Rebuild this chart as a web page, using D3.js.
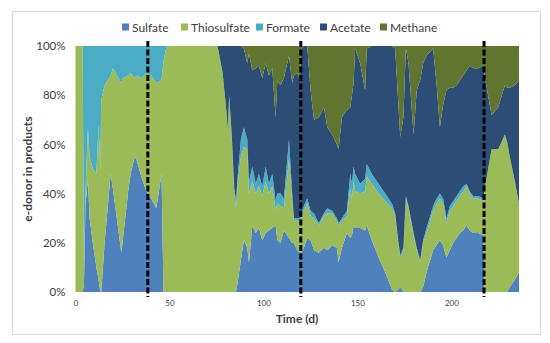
<!DOCTYPE html>
<html>
<head>
<meta charset="utf-8">
<script src="https://cdn.jsdelivr.net/npm/d3@7"></script>
<style>
  body { margin: 0; background: #fff; }
  text { font-family: Lato, "Open Sans", sans-serif; fill: #404040; }
</style>
</head>
<body>
<script>
// sampling days (d) and % of e-donor in each product
var days = [0, 3.8, 4.5, 5.3, 6.6, 7.5, 9.2, 11.1, 12.3, 13.2,
  13.7, 15.5, 18.7, 19.9, 22, 24.4, 25.3, 27.9, 29.3, 31.5,
  32.4, 35, 37.7, 40.3, 43, 45.8, 46.8, 48.5, 75.6, 78.3,
  80.5, 81, 81.8, 83.2, 84.5, 85.4, 86.3, 88, 89.6, 91.4,
  92.3, 94.1, 95.9, 97.6, 99.4, 101.2, 102.9, 104.7, 106.5, 107.4,
  109.1, 110.9, 113.6, 115.3, 116.2, 118, 119.4, 120.1, 121.5, 123.3,
  125.1, 126.9, 129.5, 132.2, 134, 136.6, 139.1, 140, 141.8, 144.4,
  146.2, 147.1, 148, 148.8, 151.5, 154.1, 155, 157.7, 161.3, 164.8,
  168.4, 170.1, 171.9, 172.8, 174.5, 175.8, 177.2, 179.9, 181.6, 183.4,
  185, 186.8, 190.3, 192.1, 193.9, 195.6, 197.4, 199.2, 201, 202.8,
  204.5, 206.3, 208.1, 209.8, 211.6, 214.3, 217.1, 217.7, 221.4, 224.9,
  228.5, 229.7, 231.1, 233.8, 236];

var sulfate = [0, 0, 3, 35, 46, 30, 20, 10, 5, 0,
  0, 20, 48, 42, 30, 16, 22, 40, 48, 55,
  54, 47, 41, 38, 34, 48, 0, 0, 0, 0,
  0, 0, 0, 0, 0, 0, 4, 13, 21, 18,
  12, 27, 24, 26, 21, 24, 25, 26, 27, 21,
  20, 25, 22, 20, 20, 17, 16, 16, 18, 22,
  21, 17, 16, 18, 17, 19, 18, 12, 18, 24,
  22, 23, 27, 26, 26, 25, 27, 21, 14, 8,
  1, 0, 1, 2, 0, 0, 0, 0, 0, 0,
  2, 8, 17, 19, 21, 19, 14, 17, 20, 22,
  24, 25, 27, 25, 24, 24, 23, 0, 0, 0,
  0, 0, 2, 5, 8];

var thiosulfate = [100, 100, 7, 5, 21, 25, 30, 38, 63, 50,
  78, 64, 40, 49, 58, 69, 65, 48, 41, 32,
  34, 40, 48, 50, 51, 38, 94, 100, 100, 89,
  72, 66, 80, 62, 40, 34, 40, 42, 38, 40,
  28, 18, 16, 17, 18, 21, 15, 17, 6, 15,
  15, 9, 32, 17, 9, 12, 13, 14, 15, 14,
  10, 13, 11, 13, 15, 13, 11, 15, 11, 7,
  20, 15, 18, 15, 14, 16, 20, 23, 26, 29,
  33, 31, 18, 12, 17, 38, 34, 23, 17, 12,
  18, 16, 16, 17, 17, 17, 14, 16, 15, 15,
  15, 16, 16, 15, 14, 14, 14, 42, 58, 58,
  64, 61, 53, 40, 28];

var formate = [0, 0, 90, 60, 33, 45, 50, 52, 32, 50,
  22, 16, 12, 9, 12, 15, 13, 12, 11, 13,
  12, 13, 11, 12, 15, 14, 6, 0, 0, 0,
  0, 0, 0, 1, 2, 3, 3, 7, 8, 4,
  5, 6, 4, 5, 4, 6, 4, 5, 4, 4,
  5, 4, 8, 3, 1, 1, 1, 2, 2, 2,
  2, 2, 1, 1, 2, 1, 1, 1, 1, 2,
  6, 6, 6, 7, 4, 5, 5, 4, 4, 3,
  2, 1, 1, 1, 1, 1, 1, 1, 1, 1,
  1, 2, 2, 2, 2, 2, 2, 2, 2, 2,
  2, 2, 1, 1, 1, 1, 1, 0, 0, 0,
  0, 0, 0, 0, 0];

var acetate = [0, 0, 0, 0, 0, 0, 0, 0, 0, 0,
  0, 0, 0, 0, 0, 0, 0, 0, 0, 0,
  0, 0, 0, 0, 0, 0, 0, 0, 0, 11,
  28, 34, 20, 37, 58, 63, 53, 38, 32, 31,
  52, 39, 47, 44, 44, 42, 44, 43, 34, 46,
  44, 49, 34, 45, 58, 59, 56, 67, 65, 62,
  49, 38, 43, 43, 33, 31, 30, 30, 41, 41,
  27, 36, 34, 51, 49, 36, 47, 52, 56, 60,
  64, 67, 55, 48, 53, 60, 58, 40, 64, 73,
  72, 70, 64, 47, 27, 38, 52, 48, 46, 45,
  45, 45, 46, 51, 52, 52, 54, 46, 14, 17,
  20, 22, 28, 39, 50];

var methane = [0, 0, 0, 0, 0, 0, 0, 0, 0, 0,
  0, 0, 0, 0, 0, 0, 0, 0, 0, 0,
  0, 0, 0, 0, 0, 0, 0, 0, 0, 0,
  0, 0, 0, 0, 0, 0, 0, 0, 1, 7,
  3, 10, 9, 8, 13, 7, 12, 9, 29, 14,
  16, 13, 4, 15, 12, 11, 14, 1, 0, 0,
  18, 30, 29, 25, 33, 36, 40, 42, 29, 26,
  25, 20, 15, 1, 7, 18, 1, 0, 0, 0,
  0, 1, 25, 37, 29, 1, 7, 36, 18, 14,
  7, 4, 1, 15, 33, 24, 18, 17, 17, 16,
  14, 12, 10, 8, 9, 9, 8, 12, 28, 25,
  16, 17, 17, 16, 14];

var keys = ['Sulfate', 'Thiosulfate', 'Formate', 'Acetate', 'Methane'];
var colors = ['#4f81bd', '#9bbb59', '#4bacc6', '#2c4d75', '#5f7530'];
var xTicks = [0, 50, 100, 150, 200];
var yTicks = [0, 0.2, 0.4, 0.6, 0.8, 1];
var phaseDays = [38.5, 119.9, 217.4];

var svg = d3.select('body').append('svg')
  .attr('width', 550)
  .attr('height', 343);

// chart frame
svg.append('rect')
  .attr('x', 12.5).attr('y', 11.5)
  .attr('width', 528).attr('height', 323)
  .attr('fill', '#fff')
  .attr('stroke', '#d9d9d9');

var x = d3.scaleLinear().domain([0, 236]).range([75.5, 519]);
var y = d3.scaleLinear().domain([0, 1]).range([292, 46]);

var rows = days.map(function(d, i) {
  return { day: d, Sulfate: sulfate[i], Thiosulfate: thiosulfate[i],
    Formate: formate[i], Acetate: acetate[i], Methane: methane[i] };
});

var layers = d3.stack().keys(keys).offset(d3.stackOffsetExpand)(rows);

var area = d3.area()
  .x(function(d) { return x(d.data.day); })
  .y0(function(d) { return y(d[0]); })
  .y1(function(d) { return y(d[1]); });

svg.selectAll('path.layer')
  .data(layers)
  .enter()
  .append('path')
  .attr('class', 'layer')
  .attr('d', area)
  .attr('fill', function(d, i) { return colors[i]; });

// phase separators
svg.selectAll('line.phase')
  .data(phaseDays)
  .enter()
  .append('line')
  .attr('class', 'phase')
  .attr('x1', function(d) { return x(d); })
  .attr('x2', function(d) { return x(d); })
  .attr('y1', 41)
  .attr('y2', 297)
  .attr('stroke', '#000')
  .attr('stroke-width', 3)
  .attr('stroke-dasharray', '6,2.5');

var yAxis = svg.append('g')
  .attr('transform', 'translate(75.5,0)')
  .call(d3.axisLeft(y).tickValues(yTicks).tickFormat(d3.format('.0%')).tickSize(0).tickPadding(10));
yAxis.select('.domain').remove();
yAxis.selectAll('text').attr('font-size', 11.5).style('font-family', 'Lato, sans-serif').attr('fill', '#404040');

var xAxis = svg.append('g')
  .attr('transform', 'translate(0,292)')
  .call(d3.axisBottom(x).tickValues(xTicks).tickSize(0).tickPadding(8));
xAxis.select('.domain').remove();
xAxis.selectAll('text').attr('font-size', 8).style('font-family', 'Lato, sans-serif').attr('fill', '#404040');

svg.append('text')
  .attr('x', 297).attr('y', 323)
  .attr('text-anchor', 'middle')
  .attr('font-size', 12)
  .attr('font-weight', 'bold')
  .text('Time (d)');

svg.append('text')
  .attr('transform', 'translate(32,169) rotate(-90)')
  .attr('text-anchor', 'middle')
  .attr('font-size', 12)
  .attr('font-weight', 'bold')
  .text('e-donor in products');

// legend
var legendX = [122, 181, 256, 320, 380];
var legend = svg.selectAll('g.legend')
  .data(keys)
  .enter()
  .append('g')
  .attr('class', 'legend')
  .attr('transform', function(d, i) { return 'translate(' + legendX[i] + ',27)'; });
legend.append('rect')
  .attr('x', 0).attr('y', -3.5)
  .attr('width', 7).attr('height', 7)
  .attr('fill', function(d, i) { return colors[i]; });
legend.append('text')
  .attr('x', 10).attr('y', 4.5)
  .attr('font-size', 12)
  .text(function(d) { return d; });
</script>
</body>
</html>
